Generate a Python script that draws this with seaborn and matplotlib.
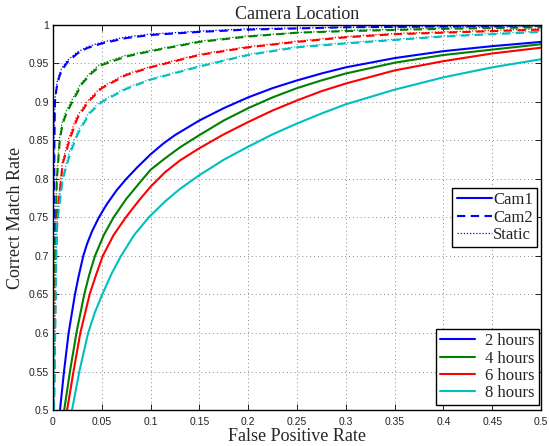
import numpy as np
import pandas as pd
import matplotlib
matplotlib.use("Agg")
import matplotlib.pyplot as plt
from matplotlib.lines import Line2D
import seaborn as sns

# ---------------- data ----------------
hours = ["2 hours", "4 hours", "6 hours", "8 hours"]
locations = ["Cam1", "Cam2", "Static"]

cam1_x = {
    "2 hours": [0.0072, 0.0113, 0.016, 0.0225, 0.026, 0.031, 0.035, 0.04, 0.047, 0.055, 0.065, 0.075, 0.087, 0.1, 0.113, 0.125, 0.15, 0.175, 0.2, 0.225, 0.25, 0.275, 0.3, 0.35, 0.4, 0.45, 0.5],
    "4 hours": [0.0115, 0.0174, 0.024, 0.032, 0.037, 0.043, 0.052, 0.062, 0.075, 0.09, 0.1, 0.115, 0.13, 0.15, 0.175, 0.2, 0.225, 0.25, 0.275, 0.3, 0.35, 0.4, 0.45, 0.5],
    "6 hours": [0.0145, 0.021, 0.028, 0.0375, 0.044, 0.051, 0.062, 0.0745, 0.088, 0.1, 0.115, 0.13, 0.15, 0.175, 0.2, 0.225, 0.25, 0.275, 0.3, 0.35, 0.4, 0.45, 0.5],
    "8 hours": [0.0195, 0.027, 0.036, 0.043, 0.0505, 0.06, 0.0697, 0.083, 0.098, 0.115, 0.13, 0.15, 0.175, 0.2, 0.225, 0.25, 0.275, 0.3, 0.35, 0.4, 0.45, 0.5],
}
cam1_y = {
    "2 hours": [0.5, 0.55, 0.6, 0.65, 0.672, 0.7, 0.716, 0.732, 0.75, 0.767, 0.785, 0.8, 0.816, 0.832, 0.846, 0.857, 0.876, 0.892, 0.906, 0.918, 0.928, 0.937, 0.945, 0.957, 0.966, 0.9725, 0.978],
    "4 hours": [0.5, 0.55, 0.6, 0.65, 0.675, 0.7, 0.727, 0.75, 0.774, 0.797, 0.812, 0.827, 0.841, 0.857, 0.876, 0.892, 0.906, 0.918, 0.928, 0.937, 0.951, 0.961, 0.968, 0.975],
    "6 hours": [0.5, 0.55, 0.6, 0.65, 0.675, 0.7, 0.727, 0.75, 0.772, 0.79, 0.809, 0.824, 0.84, 0.858, 0.874, 0.889, 0.902, 0.914, 0.924, 0.941, 0.953, 0.963, 0.9705],
    "8 hours": [0.5, 0.55, 0.6, 0.627, 0.65, 0.677, 0.7, 0.727, 0.75, 0.771, 0.787, 0.805, 0.825, 0.842, 0.858, 0.872, 0.885, 0.897, 0.916, 0.932, 0.945, 0.9555],
}

cam2_x = {
    "2 hours": [0.0003, 0.0008, 0.0015, 0.002, 0.0035, 0.005, 0.007, 0.01, 0.015, 0.025, 0.035, 0.05, 0.075, 0.1, 0.15, 0.2, 0.3, 0.4, 0.5],
    "4 hours": [0.0005, 0.002, 0.004, 0.007, 0.01, 0.014, 0.021, 0.03, 0.04, 0.05, 0.075, 0.1, 0.15, 0.2, 0.25, 0.3, 0.4, 0.5],
    "6 hours": [0.001, 0.003, 0.005, 0.01, 0.017, 0.025, 0.036, 0.05, 0.075, 0.1, 0.15, 0.2, 0.25, 0.3, 0.35, 0.4, 0.5],
    "8 hours": [0.001, 0.004, 0.01, 0.018, 0.026, 0.038, 0.05, 0.075, 0.1, 0.15, 0.2, 0.25, 0.3, 0.4, 0.5],
}
cam2_y = {
    "2 hours": [0.5, 0.7, 0.85, 0.9, 0.916, 0.926, 0.935, 0.943, 0.952, 0.963, 0.97, 0.976, 0.983, 0.987, 0.991, 0.994, 0.997, 0.998, 0.999],
    "4 hours": [0.5, 0.7, 0.8, 0.851, 0.872, 0.886, 0.903, 0.924, 0.938, 0.948, 0.959, 0.966, 0.978, 0.985, 0.99, 0.992, 0.995, 0.997],
    "6 hours": [0.5, 0.7, 0.76, 0.82, 0.851, 0.879, 0.9, 0.918, 0.935, 0.945, 0.961, 0.971, 0.978, 0.984, 0.988, 0.99, 0.994],
    "8 hours": [0.5, 0.74, 0.8, 0.835, 0.86, 0.886, 0.9, 0.917, 0.929, 0.946, 0.961, 0.971, 0.976, 0.985, 0.991],
}

static_x = {
    "2 hours": [0.0003, 0.0008, 0.0013, 0.0018, 0.0032, 0.0045, 0.0065, 0.009, 0.014, 0.024, 0.034, 0.048, 0.073, 0.098, 0.15, 0.2, 0.3, 0.4, 0.5],
    "4 hours": [0.0005, 0.0018, 0.0037, 0.0065, 0.0093, 0.013, 0.02, 0.029, 0.039, 0.048, 0.073, 0.1, 0.15, 0.2, 0.25, 0.3, 0.4, 0.5],
    "6 hours": [0.001, 0.0028, 0.0047, 0.0095, 0.016, 0.024, 0.035, 0.049, 0.074, 0.1, 0.15, 0.2, 0.25, 0.3, 0.35, 0.4, 0.5],
    "8 hours": [0.001, 0.0038, 0.0095, 0.017, 0.025, 0.037, 0.049, 0.074, 0.1, 0.15, 0.2, 0.25, 0.3, 0.4, 0.5],
}
static_y = {
    "2 hours": [0.5, 0.7, 0.85, 0.9, 0.917, 0.927, 0.936, 0.944, 0.953, 0.964, 0.971, 0.977, 0.984, 0.988, 0.992, 0.995, 0.997, 0.998, 0.999],
    "4 hours": [0.5, 0.7, 0.8, 0.852, 0.873, 0.887, 0.904, 0.925, 0.939, 0.949, 0.96, 0.967, 0.979, 0.986, 0.99, 0.993, 0.996, 0.998],
    "6 hours": [0.5, 0.7, 0.76, 0.821, 0.852, 0.88, 0.901, 0.919, 0.936, 0.946, 0.962, 0.972, 0.979, 0.985, 0.989, 0.991, 0.995],
    "8 hours": [0.5, 0.74, 0.8, 0.836, 0.861, 0.887, 0.901, 0.918, 0.93, 0.947, 0.962, 0.972, 0.977, 0.986, 0.992],
}

x_ticks = [0, 0.05, 0.1, 0.15, 0.2, 0.25, 0.3, 0.35, 0.4, 0.45, 0.5]
x_tick_labels = ["0", "0.05", "0.1", "0.15", "0.2", "0.25", "0.3", "0.35", "0.4", "0.45", "0.5"]
y_ticks = [0.5, 0.55, 0.6, 0.65, 0.7, 0.75, 0.8, 0.85, 0.9, 0.95, 1.0]
y_tick_labels = ["0.5", "0.55", "0.6", "0.65", "0.7", "0.75", "0.8", "0.85", "0.9", "0.95", "1"]

# ---------------- styling ----------------
colors = {"2 hours": (0, 0, 1), "4 hours": (0, 0.5, 0), "6 hours": (1, 0, 0), "8 hours": (0, 0.75, 0.75)}

sns.set_theme(style="white")
plt.rcParams["font.family"] = ["Liberation Sans", "DejaVu Sans"]
serif = ["Liberation Serif", "DejaVu Serif"]

rows = []
for loc, xs, ys in [("Cam1", cam1_x, cam1_y), ("Cam2", cam2_x, cam2_y), ("Static", static_x, static_y)]:
    for h in hours:
        for i, (a, b) in enumerate(zip(xs[h], ys[h])):
            rows.append({"fpr": a, "tpr": b, "hours": h, "location": loc, "order": i})
df = pd.DataFrame(rows)

fig = plt.figure(figsize=(5.49, 4.46), dpi=100)
ax = fig.add_axes([0.0965, 0.0807, 0.889, 0.8633])

line_styles = {"Cam1": dict(ls="-", lw=1.5), "Cam2": dict(ls=(0, (4, 2.6)), lw=1.5), "Static": dict(ls=(0, (1, 1.5)), lw=0.9)}

for loc in ["Static", "Cam2", "Cam1"]:
    for h in hours:
        sub = df[(df.location == loc) & (df.hours == h)].sort_values("order")
        st = line_styles[loc]
        sns.lineplot(data=sub, x="fpr", y="tpr", ax=ax, color=colors[h], sort=False,
                     estimator=None, linestyle=st["ls"], linewidth=st["lw"], legend=False)

ax.set_xlim(0, 0.5)
ax.set_ylim(0.5, 1.0)
ax.set_xticks(x_ticks)
ax.set_xticklabels(x_tick_labels)
ax.set_yticks(y_ticks)
ax.set_yticklabels(y_tick_labels)
ax.tick_params(axis="both", which="both", direction="in", length=4, width=0.6,
               top=True, right=True, bottom=True, left=True, labelsize=7.5, pad=3, colors="black")
ax.tick_params(axis="x", pad=5)
for lab in ax.get_xticklabels() + ax.get_yticklabels():
    lab.set_color("#222222")
ax.grid(True, linestyle=(0, (1, 3)), color="#888888", linewidth=0.7)
for sp in ax.spines.values():
    sp.set_visible(True)
    sp.set_color("black")
    sp.set_linewidth(1.0)

ax.set_title("Camera Location", fontsize=13, family=serif, pad=4)
ax.set_xlabel("False Positive Rate", fontsize=13, family=serif, labelpad=1)
ax.set_ylabel("Correct Match Rate", fontsize=13, family=serif, labelpad=3)

leg_font = {"family": serif, "size": 12}
h1 = [Line2D([], [], color=(0, 0, 1), **{"linestyle": line_styles[l]["ls"], "linewidth": line_styles[l]["lw"]}) for l in locations]
leg1 = ax.legend(h1, locations, loc="lower right", bbox_to_anchor=(0.992, 0.423), prop=leg_font,
                 frameon=True, fancybox=False, edgecolor="black", framealpha=1, borderaxespad=0,
                 handlelength=2.1, handletextpad=0.1, labelspacing=0.08, borderpad=0.25)
leg1.get_frame().set_linewidth(1.0)
ax.add_artist(leg1)

h2 = [Line2D([], [], color=colors[h], linestyle="-", linewidth=1.5) for h in hours]
leg2 = ax.legend(h2, hours, loc="lower right", bbox_to_anchor=(0.996, 0.012), prop=leg_font,
                 frameon=True, fancybox=False, edgecolor="black", framealpha=1, borderaxespad=0,
                 handlelength=2.1, handletextpad=0.6, labelspacing=0.08, borderpad=0.25)
leg2.get_frame().set_linewidth(1.0)

fig.savefig("out.png", dpi=100)
